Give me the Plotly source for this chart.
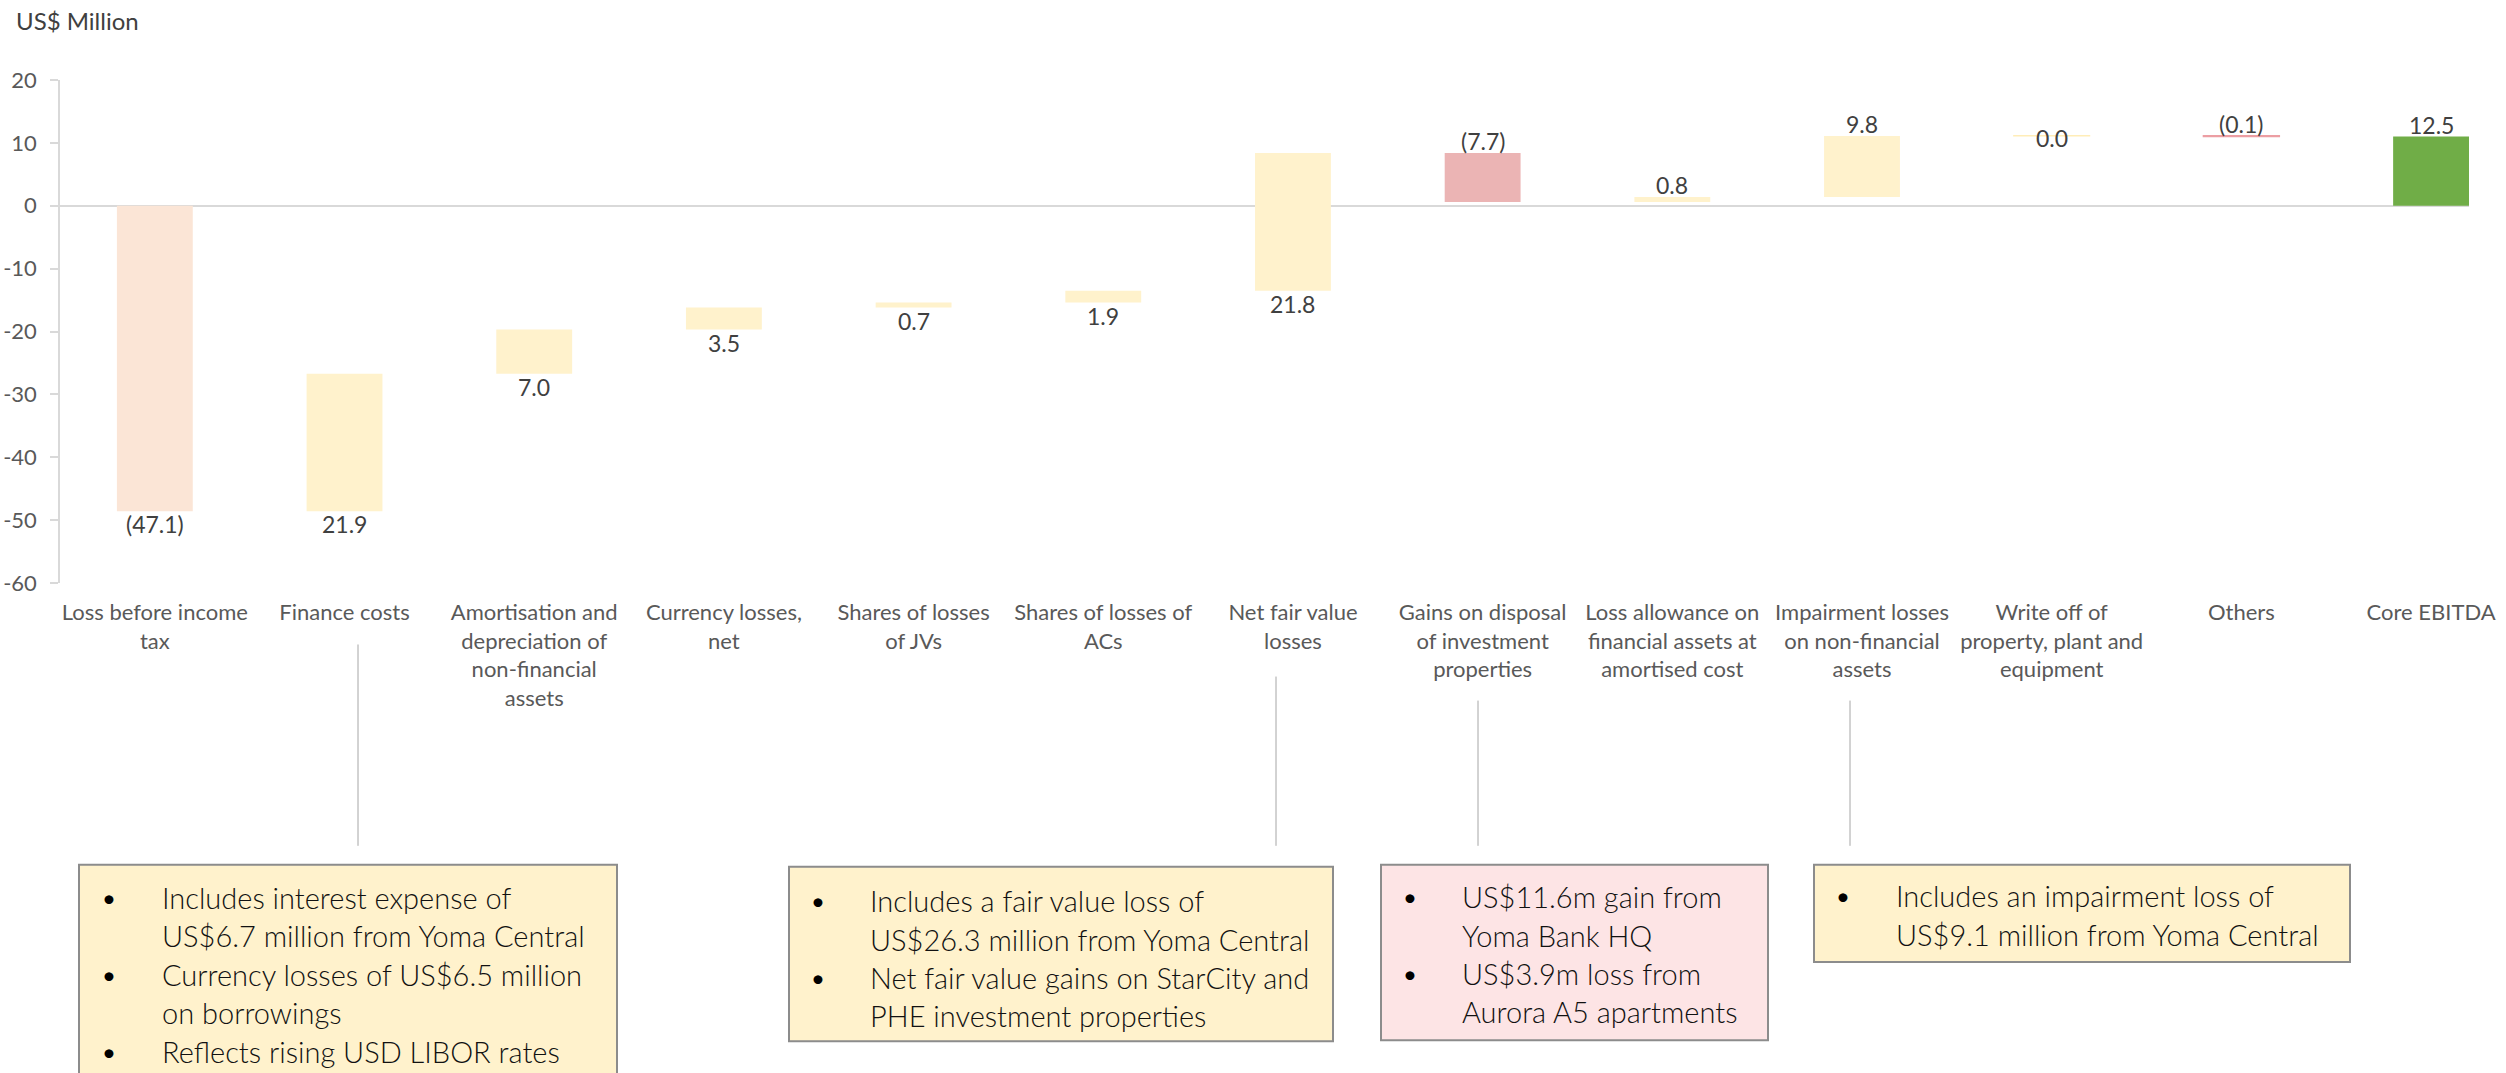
import plotly.graph_objects as go

# ---------------- data ----------------
categories = ["Loss before income tax", "Finance costs", "Amortisation", "Currency losses",
              "Shares JVs", "Shares ACs", "Net fair value", "Gains on disposal",
              "Loss allowance", "Impairment", "Write off", "Others", "Core EBITDA"]
tick_labels = ["Loss before income<br>tax", "Finance costs",
               "Amortisation and<br>depreciation of<br>non-financial<br>assets",
               "Currency losses,<br>net", "Shares of losses<br>of JVs",
               "Shares of losses of<br>ACs", "Net fair value<br>losses",
               "Gains on disposal<br>of investment<br>properties",
               "Loss allowance on<br>financial assets at<br>amortised cost",
               "Impairment losses<br>on non-financial<br>assets",
               "Write off of<br>property, plant and<br>equipment", "Others", "Core EBITDA"]
start_value = -48.6
changes = [21.9, 7.0, 3.5, 0.8, 1.9, 21.9, -7.8, 0.8, 9.7, 0.05, -0.15]
value_labels = ["(47.1)", "21.9", "7.0", "3.5", "0.7", "1.9", "21.8", "(7.7)",
                "0.8", "9.8", "0.0", "(0.1)", "12.5"]
label_side = ["below", "below", "below", "below", "below", "below", "below",
              "above", "above", "above", "center", "above", "above"]
y_ticks = [20, 10, 0, -10, -20, -30, -40, -50, -60]
y_tick_labels = ["20", "10", "0", "-10", "-20", "-30", "-40", "-50", "-60"]

box_texts = [
    ["Includes interest expense of", "US$6.7 million from Yoma Central",
     "Currency losses of US$6.5 million", "on borrowings", "Reflects rising USD LIBOR rates"],
    ["Includes a fair value loss of", "US$26.3 million from Yoma Central",
     "Net fair value gains on StarCity and", "PHE investment properties"],
    ["US$11.6m gain from", "Yoma Bank HQ", "US$3.9m loss from", "Aurora A5 apartments"],
    ["Includes an impairment loss of", "US$9.1 million from Yoma Central"],
]
box_bullets = [[True, False, True, False, True], [True, False, True, False],
               [True, False, True, False], [True, False]]

# ---------------- derived bars ----------------
bases, heights = [0.0], [start_value]
running = start_value
for c in changes:
    bases.append(running)
    heights.append(c)
    running += c
total = running
bases.append(0.0)
heights.append(total)

colors = ["#FBE5D6"] + ["#FFF2CC"] * 6 + ["#EBB4B4", "#FFF2CC", "#FFF2CC", "#FFEDB8", "#EC9EA3", "#70AD47"]
line_w = [0] * 10 + [1.2, 1.5, 0]

# ---------------- layout geometry (page pixel coords) ----------------
W, H = 2506, 1073
PLOT_L, PLOT_R, PLOT_T, PLOT_B = 60, 2469, 80.4, 582.6
ML, MR = PLOT_L, W - PLOT_R
MT, MB = PLOT_T, H - PLOT_B
PW, PH = PLOT_R - PLOT_L, PLOT_B - PLOT_T


def px(x):
    return (x - PLOT_L) / PW


def py(y):
    return (PLOT_B - y) / PH


FONT = "Lato, Calibri, sans-serif"

fig = go.Figure()
fig.add_trace(go.Bar(
    x=categories, y=heights, base=bases, width=0.4,
    marker=dict(color=colors, line=dict(color=colors, width=line_w)),
    hoverinfo="skip", showlegend=False,
))

annotations = []
for i, cat in enumerate(categories):
    lo = min(bases[i], bases[i] + heights[i])
    hi = max(bases[i], bases[i] + heights[i])
    if label_side[i] == "below":
        yv, shift = lo, -13
    elif label_side[i] == "above":
        yv, shift = hi, 12
    else:
        yv, shift = hi, -2
    annotations.append(dict(x=cat, y=yv, xref="x", yref="y", text=value_labels[i],
                            showarrow=False, yshift=shift, yanchor="middle",
                            font=dict(family=FONT, size=23, color="#404040")))

annotations.append(dict(x=px(14), y=py(21), xref="paper", yref="paper", text="US$ Million",
                        showarrow=False, xanchor="left", yanchor="middle",
                        font=dict(family=FONT, size=24, color="#404040")))

shapes = []
# connectors
for cx, y0 in [(358, 644), (1276, 676), (1478, 700), (1850, 700)]:
    shapes.append(dict(type="line", xref="paper", yref="paper", x0=px(cx), x1=px(cx),
                       y0=py(y0), y1=py(845), line=dict(color="#A6A6A6", width=1)))
# boxes
boxes = [(79, 617, 864, 1085, "#FFF2CC"), (789, 1333, 866, 1040, "#FFF2CC"),
         (1381, 1768, 864, 1039, "#FDE4E5"), (1814, 2350, 864, 961, "#FFF2CC")]
for x0, x1, y0, y1, fc in boxes:
    shapes.append(dict(type="rect", xref="paper", yref="paper", x0=px(x0), x1=px(x1),
                       y0=py(y0), y1=py(y1), fillcolor=fc,
                       line=dict(color="#8C8C8C", width=2), layer="below"))

box_layout = [(100, 160, 896.7), (809, 868, 900), (1401, 1460, 896), (1834, 1894, 895)]
STEP = 38.3
for b, (bx, tx, y0) in enumerate(box_layout):
    for j, line in enumerate(box_texts[b]):
        yy = y0 + j * STEP
        if box_bullets[b][j]:
            annotations.append(dict(x=px(bx), y=py(yy), xref="paper", yref="paper", text="•",
                                    showarrow=False, xanchor="left", yanchor="middle",
                                    font=dict(family=FONT, size=24, color="#000000")))
        annotations.append(dict(x=px(tx), y=py(yy), xref="paper", yref="paper", text=line,
                                showarrow=False, xanchor="left", yanchor="middle",
                                font=dict(family=FONT, size=29, color="#111111", weight=300)))

fig.update_layout(
    width=W, height=H,
    margin=dict(l=ML, r=MR, t=MT, b=MB, pad=0, autoexpand=False),
    paper_bgcolor="white", plot_bgcolor="white",
    annotations=annotations, shapes=shapes,
    xaxis=dict(type="category", range=[-0.5, 12.2], tickvals=categories, ticktext=tick_labels,
               showgrid=False, showline=False, zeroline=False, ticks="", automargin=False,
               tickfont=dict(family=FONT, size=22, color="#595959"), ticklabelstandoff=14),
    yaxis=dict(range=[-60, 20], tickvals=y_ticks, ticktext=y_tick_labels, showgrid=False,
               showline=True, linecolor="#D9D9D9", linewidth=1.5, automargin=False,
               ticks="outside", ticklen=8, tickcolor="#D9D9D9", tickwidth=1.5,
               zeroline=True, zerolinecolor="#D9D9D9", zerolinewidth=2,
               tickfont=dict(family=FONT, size=22, color="#595959"), ticklabelstandoff=9),
)

fig.write_html("out.html", config={"displayModeBar": False},
               post_script="document.body.style.margin='0';document.body.style.overflow='hidden';")
